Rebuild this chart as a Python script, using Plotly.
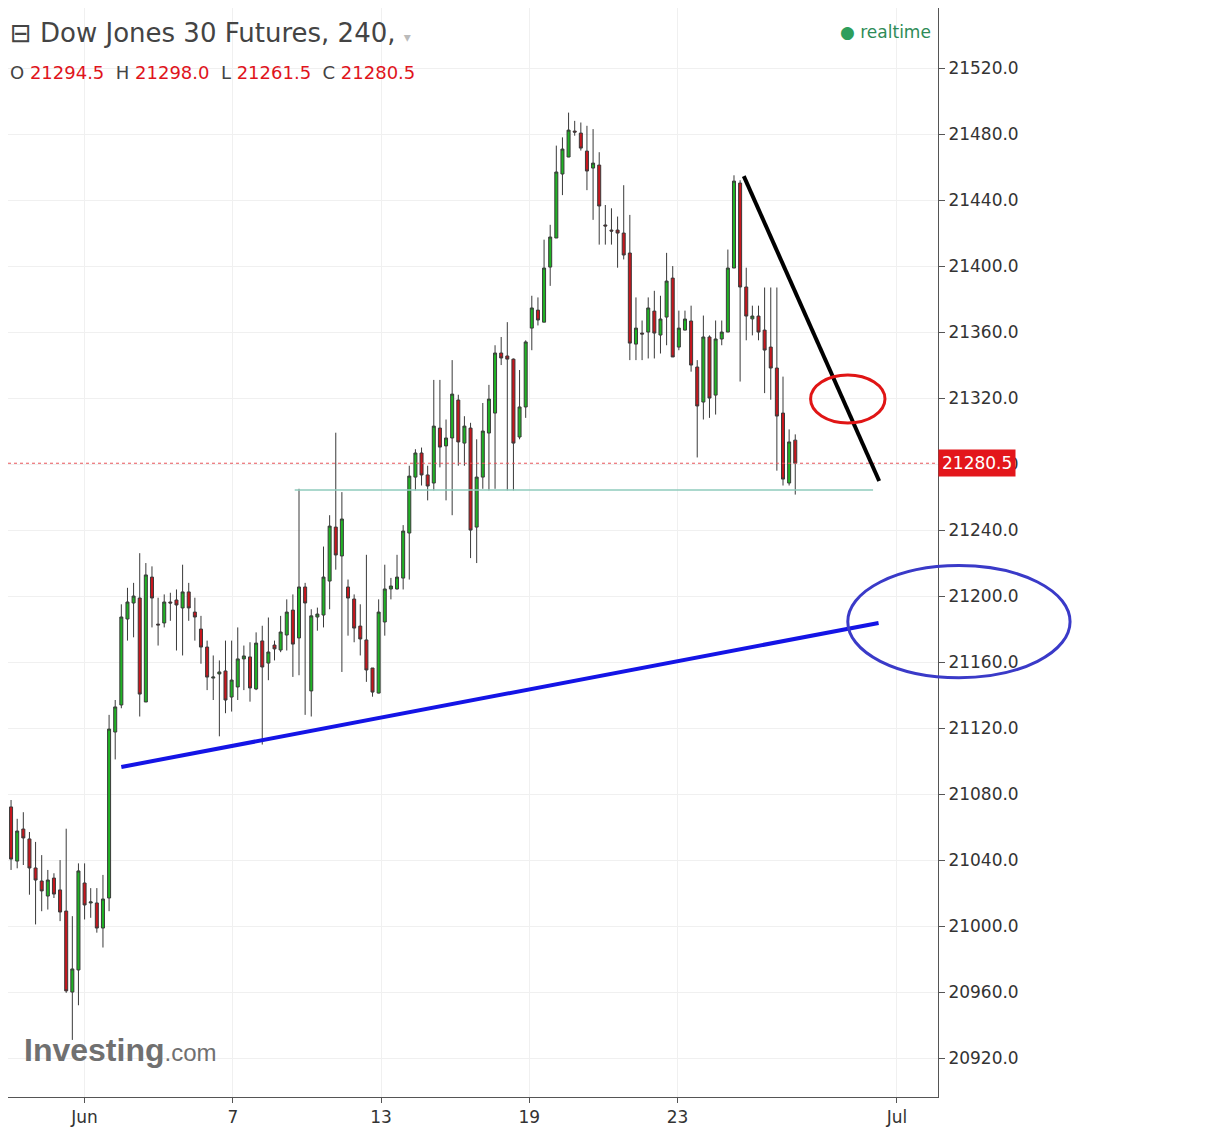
import plotly.graph_objects as go

# 240-minute candles, Dow Jones 30 futures
opens = [21072.2, 21039.4, 21058.8, 21052.8, 21035.2, 21027.3, 21018.2, 21029.1, 21021.9, 21009.1,
         20960.0, 20973.4, 21026.1, 21014.0, 21014.0, 20998.8, 21017.0, 21117.6, 21134.0, 21186.1,
         21195.8, 21198.8, 21135.8, 21211.5, 21183.0, 21183.7, 21196.4, 21197.6, 21192.8, 21202.5,
         21190.3, 21180.0, 21169.1, 21150.3, 21152.8, 21154.6, 21138.8, 21144.9, 21161.9, 21163.1,
         21143.7, 21172.8, 21159.4, 21170.3, 21167.3, 21176.4, 21191.5, 21174.6, 21205.5, 21142.5,
         21187.3, 21188.5, 21209.1, 21241.8, 21224.3, 21205.5, 21198.2, 21181.8, 21173.4, 21156.4,
         21141.2, 21184.3, 21204.3, 21204.3, 21210.9, 21238.2, 21272.1, 21286.7, 21273.4, 21268.5,
         21301.8, 21291.0, 21295.8, 21318.8, 21292.7, 21301.8, 21241.8, 21272.1, 21298.8, 21310.9,
         21347.3, 21345.5, 21343.6, 21296.4, 21314.6, 21362.4, 21373.3, 21366.0, 21399.4, 21417.0,
         21455.8, 21466.1, 21481.8, 21480.6, 21469.7, 21459.4, 21461.2, 21424.9, 21421.8, 21421.8,
         21420.0, 21407.9, 21352.7, 21359.4, 21360.0, 21372.7, 21358.2, 21369.1, 21392.7, 21350.9,
         21361.2, 21366.7, 21338.8, 21317.6, 21357.0, 21321.8, 21355.8, 21360.0, 21398.8, 21450.3,
         21387.3, 21368.0, 21369.7, 21361.2, 21350.9, 21338.2, 21310.9, 21268.5, 21294.5]
highs = [21076.4, 21065.0, 21069.0, 21057.0, 21051.0, 21043.0, 21034.0, 21032.0, 21040.0, 21059.0,
         21006.0, 21038.0, 21038.0, 21023.0, 21023.0, 21031.0, 21128.0, 21137.0, 21195.0, 21205.0,
         21208.0, 21226.0, 21220.0, 21218.0, 21199.0, 21201.0, 21202.0, 21204.0, 21219.0, 21208.0,
         21199.0, 21188.0, 21173.0, 21164.0, 21161.0, 21173.0, 21173.0, 21181.0, 21170.0, 21172.0,
         21178.0, 21182.0, 21187.0, 21173.0, 21188.0, 21198.0, 21201.0, 21265.0, 21208.0, 21192.0,
         21193.0, 21230.0, 21249.0, 21299.0, 21263.0, 21210.0, 21201.0, 21195.0, 21225.0, 21156.0,
         21198.0, 21219.0, 21211.0, 21225.0, 21243.0, 21279.0, 21289.0, 21290.0, 21279.0, 21331.0,
         21331.0, 21307.0, 21343.0, 21322.0, 21309.0, 21305.0, 21295.0, 21317.0, 21328.0, 21352.0,
         21357.0, 21366.0, 21344.0, 21337.0, 21355.0, 21382.0, 21381.0, 21416.0, 21425.0, 21473.0,
         21478.0, 21493.0, 21488.0, 21487.0, 21485.0, 21483.0, 21469.0, 21437.0, 21435.0, 21430.0,
         21449.0, 21431.0, 21381.0, 21367.0, 21381.0, 21385.0, 21382.0, 21408.0, 21400.0, 21373.0,
         21373.0, 21376.0, 21343.0, 21370.0, 21358.0, 21367.0, 21367.0, 21410.0, 21455.0, 21452.0,
         21399.0, 21376.0, 21376.0, 21387.0, 21387.0, 21387.0, 21333.0, 21301.0, 21298.0]
lows = [21034.0, 21035.0, 21037.0, 21019.0, 21001.0, 21009.0, 21010.0, 21017.0, 21003.0, 20959.5,
        20931.0, 20952.0, 21004.0, 21005.0, 20996.0, 20987.0, 21009.0, 21101.0, 21132.0, 21173.0,
        21175.0, 21127.0, 21136.0, 21181.0, 21170.0, 21181.0, 21185.0, 21167.0, 21164.0, 21185.0,
        21173.0, 21159.0, 21143.0, 21137.0, 21115.0, 21129.0, 21130.0, 21137.0, 21143.0, 21136.0,
        21143.0, 21110.0, 21149.0, 21161.0, 21166.0, 21167.0, 21151.0, 21152.0, 21128.0, 21127.0,
        21179.0, 21181.0, 21192.0, 21216.0, 21154.0, 21176.0, 21172.0, 21164.0, 21148.0, 21139.0,
        21141.0, 21176.0, 21198.0, 21204.0, 21204.0, 21210.0, 21264.0, 21267.0, 21258.0, 21264.0,
        21278.0, 21258.0, 21249.0, 21279.0, 21279.0, 21223.0, 21220.0, 21265.0, 21264.0, 21265.0,
        21340.0, 21264.0, 21264.0, 21295.0, 21308.0, 21349.0, 21364.0, 21366.0, 21388.0, 21417.0,
        21443.0, 21466.0, 21479.0, 21470.0, 21446.0, 21428.0, 21413.0, 21413.0, 21413.0, 21399.0,
        21404.0, 21343.0, 21343.0, 21343.0, 21344.0, 21344.0, 21347.0, 21352.0, 21345.0, 21349.0,
        21361.0, 21336.0, 21284.0, 21307.0, 21308.0, 21310.0, 21352.0, 21360.0, 21399.0, 21330.0,
        21355.0, 21358.0, 21355.0, 21323.0, 21319.0, 21276.0, 21267.0, 21267.0, 21261.5]
closes = [21040.6, 21057.6, 21053.4, 21035.2, 21027.9, 21021.3, 21027.9, 21019.4, 21008.5, 20960.7,
          20974.0, 21033.4, 21012.8, 21014.6, 20998.8, 21016.4, 21119.4, 21132.8, 21187.3, 21196.4,
          21200.0, 21140.6, 21212.8, 21198.8, 21182.5, 21196.4, 21195.8, 21194.6, 21202.5, 21192.8,
          21187.3, 21169.1, 21150.9, 21150.9, 21154.0, 21137.0, 21149.1, 21161.9, 21163.7, 21144.3,
          21171.5, 21157.0, 21166.1, 21168.0, 21178.2, 21190.3, 21170.9, 21205.5, 21195.8, 21188.0,
          21189.1, 21211.5, 21242.4, 21224.9, 21246.7, 21198.8, 21180.6, 21174.0, 21155.2, 21141.8,
          21190.3, 21204.3, 21206.1, 21211.5, 21239.4, 21272.7, 21286.7, 21273.4, 21266.7, 21303.0,
          21290.3, 21295.8, 21322.4, 21293.4, 21303.0, 21240.0, 21272.1, 21300.0, 21319.4, 21347.3,
          21344.3, 21343.6, 21292.7, 21314.6, 21354.0, 21374.6, 21367.3, 21398.8, 21417.6, 21457.0,
          21470.9, 21482.4, 21481.2, 21471.5, 21457.6, 21462.4, 21436.4, 21424.3, 21421.2, 21420.0,
          21406.7, 21353.3, 21362.4, 21358.8, 21374.6, 21359.4, 21367.9, 21390.9, 21344.9, 21362.4,
          21367.9, 21340.0, 21315.2, 21357.0, 21320.0, 21355.8, 21360.0, 21398.8, 21451.5, 21387.3,
          21369.7, 21369.7, 21360.0, 21349.1, 21338.2, 21309.1, 21270.9, 21293.4, 21280.5]

day_ticks = [12, 36.2, 60.4, 84.6, 108.8, 144.6]
day_labels = ["Jun", "7", "13", "19", "23", "Jul"]
price_ticks = list(range(20920, 21561, 40))
last_price = 21280.5

# hand-drawn marks on the chart: (index, price)
support_line = [(18, 21096.4), (141.6, 21183.7)]
trend_line = [(119.6, 21454.5), (141.7, 21269.7)]
neck_line = [(46.3, 21264.3), (140.7, 21264.3)]

idx = list(range(len(closes)))

fig = go.Figure()
fig.add_trace(go.Candlestick(
    x=idx, open=opens, high=highs, low=lows, close=closes,
    increasing=dict(fillcolor="#1fb324", line=dict(color="#3a3a3a", width=1)),
    decreasing=dict(fillcolor="#c8161d", line=dict(color="#3a3a3a", width=1)),
    whiskerwidth=0, showlegend=False, hoverinfo="skip"))

fig.add_hline(y=last_price, line=dict(color="#e8545a", width=1, dash="dot"))
fig.add_shape(type="line", x0=neck_line[0][0], y0=neck_line[0][1], x1=neck_line[1][0], y1=neck_line[1][1],
              line=dict(color="#8fcbbd", width=1.5))
fig.add_shape(type="line", x0=support_line[0][0], y0=support_line[0][1], x1=support_line[1][0], y1=support_line[1][1],
              line=dict(color="#1414e6", width=4))
fig.add_shape(type="line", x0=trend_line[0][0], y0=trend_line[0][1], x1=trend_line[1][0], y1=trend_line[1][1],
              line=dict(color="black", width=4))
fig.add_shape(type="circle", xref="paper", yref="paper", x0=0.863, x1=0.943, y0=0.619, y1=0.663,
              line=dict(color="#e01515", width=3))
fig.add_shape(type="circle", xref="paper", yref="paper", x0=0.903, x1=1.142, y0=0.385, y1=0.488,
              line=dict(color="#3a3ac8", width=3))

fig.add_annotation(xref="paper", yref="y", x=1.0, y=last_price, text="21280.5", showarrow=False,
                   xanchor="left", bgcolor="#e3161b", font=dict(color="white", size=17, family="DejaVu Sans"),
                   borderpad=3, xshift=0)
fig.add_annotation(xref="paper", yref="paper", x=0.0, y=0.993, xanchor="left", yanchor="top", showarrow=False,
                   text="⊟ Dow Jones 30 Futures, 240, <span style='color:#bbb;font-size:14px'>▾</span>",
                   font=dict(size=26, color="#444", family="DejaVu Sans"))
fig.add_annotation(xref="paper", yref="paper", x=0.0, y=0.952, xanchor="left", yanchor="top", showarrow=False,
                   text=("O <span style='color:#e0141c'>21294.5</span>  H <span style='color:#e0141c'>21298.0</span>"
                         "  L <span style='color:#e0141c'>21261.5</span>  C <span style='color:#e0141c'>21280.5</span>"),
                   font=dict(size=18, color="#444", family="DejaVu Sans"))
fig.add_annotation(xref="paper", yref="paper", x=0.995, y=0.978, xanchor="right", yanchor="middle", showarrow=False,
                   text="<span style='color:#2e9e5b'>●</span> realtime",
                   font=dict(size=17, color="#2e8b57", family="DejaVu Sans"))
fig.add_annotation(xref="paper", yref="paper", x=0.015, y=0.025, xanchor="left", yanchor="bottom", showarrow=False,
                   text="<b>Investing</b><span style='font-size:24px'>.com</span>",
                   font=dict(size=32, color="#707070", family="Liberation Sans"))

fig.update_layout(
    width=1207, height=1126,
    margin=dict(l=0, r=277, t=0, b=37),
    plot_bgcolor="white", paper_bgcolor="white",
    xaxis=dict(range=[-0.5, 151.3], tickvals=day_ticks, ticktext=day_labels, rangeslider=dict(visible=False),
               showgrid=True, gridcolor="#f0f0f0", showline=True, linecolor="#555", linewidth=1,
               ticks="outside", ticklen=5, tickcolor="#555", zeroline=False, automargin=False,
               tickfont=dict(size=17, color="#333", family="DejaVu Sans")),
    yaxis=dict(side="right", range=[20896.4, 21556.4], tickvals=price_ticks, tickformat=".1f",
               showgrid=True, gridcolor="#f0f0f0", showline=True, linecolor="#555", linewidth=1,
               ticks="outside", ticklen=6, tickcolor="#555", zeroline=False, automargin=False,
               tickfont=dict(size=17, color="#333", family="DejaVu Sans")),
)

fig.write_html("out.html")
